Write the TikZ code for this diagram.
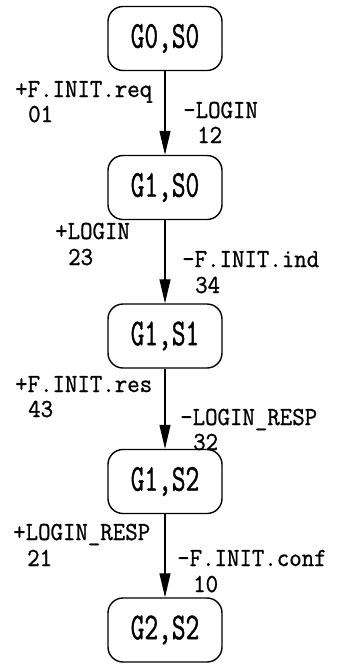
\documentclass[tikz,border=0pt]{standalone}
\usepackage{fontspec}
\usetikzlibrary{arrows.meta}
\newfontfamily\lblfont[FakeStretch=0.93,FakeBold=1.0]{Latin Modern Mono}
\newfontfamily\boxfont[FakeStretch=0.70,FakeBold=1.0]{Latin Modern Mono}
\begin{document}
\begin{tikzpicture}[x=1pt,y=-1pt,
  state/.style={draw, line width=1.4pt, rounded corners=15pt, minimum width=114pt, minimum height=64pt, inner sep=0pt, font=\boxfont\fontsize{38}{38}\selectfont},
  lbl/.style={anchor=base west, inner sep=0pt, font=\lblfont\fontsize{26}{26}\selectfont},
  arr/.style={line width=1.1pt, -{Triangle[length=24pt,width=11pt]}}]
\useasboundingbox (0,0) rectangle (344,667);
\node[state] (s1) at (165,38.5) {G0,S0};
\node[state] (s2) at (165,187.5) {G1,S0};
\node[state] (s3) at (165,336) {G1,S1};
\node[state] (s4) at (165,481.5) {G1,S2};
\node[state] (s5) at (165,630) {G2,S2};
\draw[arr] (s1) -- (s2);
\draw[arr] (s2) -- (s3);
\draw[arr] (s3) -- (s4);
\draw[arr] (s4) -- (s5);
\node[lbl] (l1a) at (15,97) {+F.INIT.req};
\node[lbl] (l1b) at (28,122) {01};
\node[lbl] (r1a) at (183,118) {-LOGIN};
\node[lbl] (r1b) at (197,143) {12};
\node[lbl] (l2a) at (55,239) {+LOGIN};
\node[lbl] (l2b) at (68,265) {23};
\node[lbl] (r2a) at (182,267) {-F.INIT.ind};
\node[lbl] (r2b) at (195,293) {34};
\node[lbl] (l3a) at (15,392) {+F.INIT.res};
\node[lbl] (l3b) at (28,417) {43};
\node[lbl] (r3a) at (180,425) {-LOGIN\_RESP};
\node[lbl] (r3b) at (193,450) {32};
\node[lbl] (l4a) at (13,540) {+LOGIN\_RESP};
\node[lbl] (l4b) at (27,566) {21};
\node[lbl] (r4a) at (177,566) {-F.INIT.conf};
\node[lbl] (r4b) at (193,592) {10};
\end{tikzpicture}
\end{document}
